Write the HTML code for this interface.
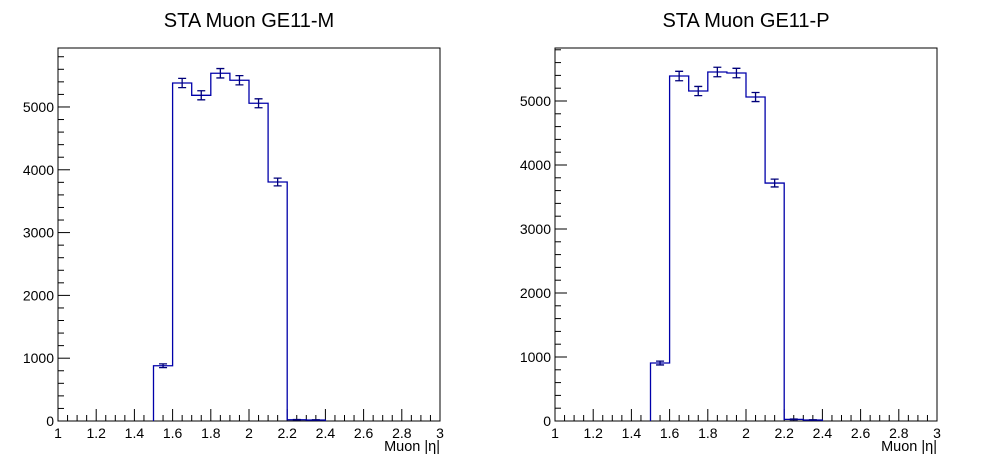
<!DOCTYPE html>
<html><head><meta charset="utf-8"><style>
body{margin:0;background:#fff;}
svg{display:block;font-family:"Liberation Sans",sans-serif;}
</style></head><body>
<svg id="c" width="996" height="472" xmlns="http://www.w3.org/2000/svg"></svg>
<script>
const binEdgesStart = 1.5;
const binWidth = 0.1;
const valuesM = [880, 5382, 5186, 5537, 5425, 5059, 3806, 20, 15];
const valuesP = [906, 5390, 5156, 5453, 5437, 5062, 3718, 25, 15];
const xTicks = ["1","1.2","1.4","1.6","1.8","2","2.2","2.4","2.6","2.8","3"];
const yTicks = [0,1000,2000,3000,4000,5000];
const titles = ["STA Muon GE11-M","STA Muon GE11-P"];

const NS="http://www.w3.org/2000/svg";
const svg=document.getElementById('c');
function mk(tag,attrs,parent){const e=document.createElementNS(NS,tag);for(const k in attrs)e.setAttribute(k,attrs[k]);(parent||svg).appendChild(e);return e;}

const panels=[{x0:58,x1:440,y0:48,y1:421,ymax:5939,vals:valuesM,name:'gem-m'},
              {x0:555,x1:937,y0:48,y1:421,ymax:5828,vals:valuesP,name:'gem-p'}];
panels.forEach((p,pi)=>{
  const g=mk('g',{});
  
  
  const X=v=>p.x0+(v-1)/2*(p.x1-p.x0);
  const Y=v=>p.y1-v/p.ymax*(p.y1-p.y0);
  const fr=mk('rect',{x:p.x0,y:p.y0,width:p.x1-p.x0,height:p.y1-p.y0,fill:'none',stroke:'#000','stroke-width':1},g);
  
  const t=mk('text',{x:(p.x0+p.x1)/2,y:27,'text-anchor':'middle','font-size':20},g);
  t.textContent=titles[pi];
  
  for(let i=0;i<=40;i++){const v=1+i*0.05;const len=(i%4==0)?12:6;
    mk('line',{x1:X(v),x2:X(v),y1:p.y1,y2:p.y1-len,stroke:'#000','stroke-width':1},g);}
  xTicks.forEach((s,i)=>{const tx=mk('text',{x:X(1+i*0.2),y:p.y1+17,'text-anchor':'middle','font-size':14},g);tx.textContent=s;
    });
  for(let v=0;v<=p.ymax;v+=200){const len=(v%1000==0)?12:6;
    mk('line',{x1:p.x0,x2:p.x0+len,y1:Y(v),y2:Y(v),stroke:'#000','stroke-width':1},g);}
  yTicks.forEach(v=>{const ty=mk('text',{x:p.x0-4,y:Y(v)+5,'text-anchor':'end','font-size':14},g);ty.textContent=v;
    });
  const xt=mk('text',{x:p.x1,y:p.y1+30,'text-anchor':'end','font-size':14.5},g);xt.textContent='Muon |η|';
  
  let d='M'+X(binEdgesStart)+','+Y(0);
  p.vals.forEach((v,i)=>{const a=binEdgesStart+i*binWidth;d+=' L'+X(a)+','+Y(v)+' L'+X(a+binWidth)+','+Y(v);});
  d+=' L'+X(binEdgesStart+p.vals.length*binWidth)+','+Y(0);
  const h=mk('path',{d:d,fill:'none',stroke:'#0000aa','stroke-width':1.3},g);
  
  p.vals.forEach((v,i)=>{const c=X(binEdgesStart+(i+0.5)*binWidth);const e=Math.sqrt(v);
    const eb=mk('path',{d:`M${c},${Y(v+e)} L${c},${Y(v-e)} M${c-4},${Y(v+e)} L${c+4},${Y(v+e)} M${c-4},${Y(v-e)} L${c+4},${Y(v-e)}`,fill:'none',stroke:'#00007a','stroke-width':1.3},g);
    });
});
</script>
</body></html>
